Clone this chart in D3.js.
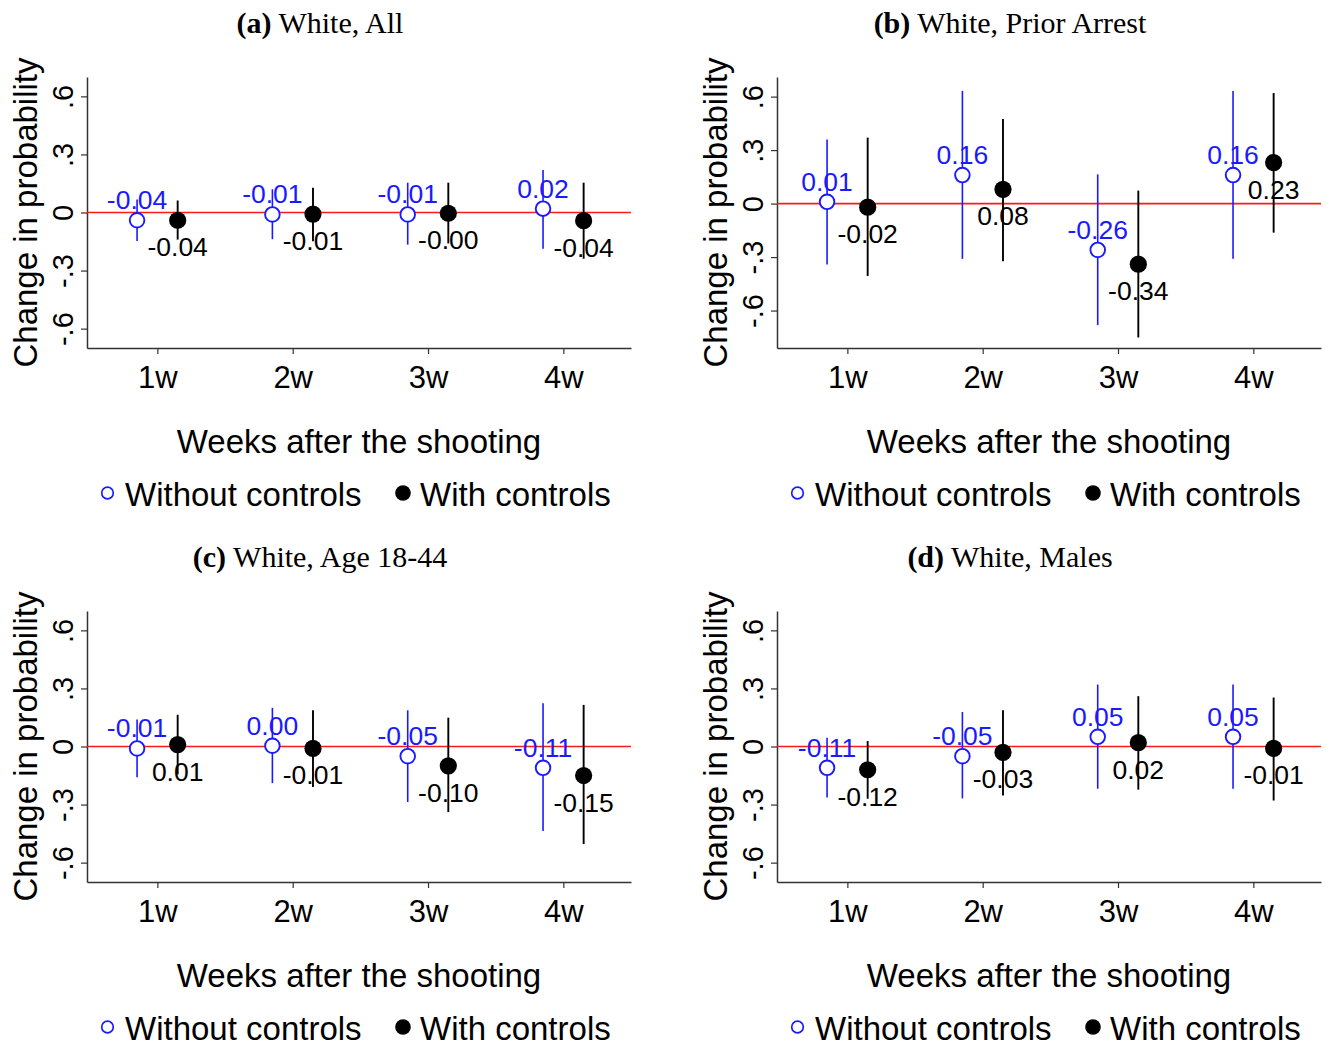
<!DOCTYPE html>
<html>
<head>
<meta charset="utf-8">
<script src="https://cdn.jsdelivr.net/npm/d3@7"></script>
<style>
  body { margin: 0; background: #fff; }
  svg { display: block; }
  .sans { font-family: "Liberation Sans", Arial, Helvetica, sans-serif; }
  .serif { font-family: "Liberation Serif", "Times New Roman", serif; }
</style>
</head>
<body>
<svg id="chart" width="1326" height="1048"></svg>
<script>
'use strict';

// ---- data ----
var weeks = ["1w", "2w", "3w", "4w"];
var panelLetters = ["(a)", "(b)", "(c)", "(d)"];
var panelNames = ["White, All", "White, Prior Arrest", "White, Age 18-44", "White, Males"];
var yTicks = [-0.6, -0.3, 0, 0.3, 0.6];
var yDomains = [[-0.7, 0.7], [-0.81, 0.71], [-0.7, 0.7], [-0.7, 0.7]];
var seriesNames = ["Without controls", "With controls"];

// without controls (no*) and with controls (ct*): estimate, lower and upper CI
var noEstA = [-0.04, -0.01, -0.01, 0.02];
var noLoA  = [-0.147, -0.138, -0.166, -0.187];
var noHiA  = [0.067, 0.12, 0.154, 0.22];
var ctEstA = [-0.04, -0.008, -0.004, -0.042];
var ctLoA  = [-0.14, -0.148, -0.16, -0.239];
var ctHiA  = [0.062, 0.128, 0.154, 0.154];

var noEstB = [0.01, 0.16, -0.26, 0.16];
var noLoB  = [-0.342, -0.31, -0.682, -0.31];
var noHiB  = [0.359, 0.632, 0.164, 0.632];
var ctEstB = [-0.02, 0.08, -0.34, 0.23];
var ctLoB  = [-0.406, -0.323, -0.751, -0.163];
var ctHiB  = [0.37, 0.475, 0.073, 0.62];

var noEstC = [-0.01, 0.004, -0.05, -0.11];
var noLoC  = [-0.159, -0.189, -0.287, -0.436];
var noHiC  = [0.14, 0.20, 0.187, 0.223];
var ctEstC = [0.01, -0.01, -0.10, -0.15];
var ctLoC  = [-0.144, -0.209, -0.339, -0.504];
var ctHiC  = [0.164, 0.187, 0.149, 0.215];

var noEstD = [-0.11, -0.05, 0.05, 0.05];
var noLoD  = [-0.263, -0.268, -0.218, -0.218];
var noHiD  = [0.045, 0.178, 0.32, 0.32];
var ctEstD = [-0.12, -0.03, 0.02, -0.01];
var ctLoD  = [-0.27, -0.253, -0.223, -0.279];
var ctHiD  = [0.028, 0.187, 0.26, 0.253];

var panels = [
  {no: [noEstA, noLoA, noHiA], ct: [ctEstA, ctLoA, ctHiA]},
  {no: [noEstB, noLoB, noHiB], ct: [ctEstB, ctLoB, ctHiB]},
  {no: [noEstC, noLoC, noHiC], ct: [ctEstC, ctLoC, ctHiC]},
  {no: [noEstD, noLoD, noHiD], ct: [ctEstD, ctLoD, ctHiD]}
];

// ---- layout ----
var BLUE = "#1a1aff";
var RED = "#ff1a1a";
var AXIS = "#333";
var PANEL_X = [0, 690];
var PANEL_Y = [0, 534];
var PLOT_L = 87, PLOT_R = 631, PLOT_T = 77, PLOT_B = 348;
var OFFSET = 0.15;

function fmtLabel(v) {
  return (v < 0 ? "-" : "") + Math.abs(v).toFixed(2);
}
function fmtTick(v) {
  if (v === 0) return "0";
  return (v < 0 ? "-" : "") + String(Math.abs(v)).replace(/^0/, "");
}

var svg = d3.select("#chart");

panels.forEach(function(p, i) {
  var ox = PANEL_X[i % 2], oy = PANEL_Y[Math.floor(i / 2)];
  var g = svg.append("g").attr("transform", "translate(" + ox + "," + oy + ")");

  var x = d3.scaleLinear().domain([0.48, 4.5]).range([PLOT_L, PLOT_R]);
  var y = d3.scaleLinear().domain(yDomains[i]).range([PLOT_B, PLOT_T]);

  // title
  var t = g.append("text").attr("class", "serif")
    .attr("x", 320).attr("y", 33)
    .attr("text-anchor", "middle")
    .attr("font-size", 30);
  t.append("tspan").attr("font-weight", "bold").text(panelLetters[i]);
  t.append("tspan").text(" " + panelNames[i]);

  // axes
  var ya = g.append("g").attr("class", "sans")
    .attr("transform", "translate(" + PLOT_L + ",0)")
    .call(d3.axisLeft(y).tickValues(yTicks).tickFormat(fmtTick).tickSize(6).tickSizeOuter(0));
  ya.select(".domain").attr("stroke", AXIS).attr("stroke-width", 1.5);
  ya.selectAll(".tick line").attr("stroke", AXIS).attr("stroke-width", 1.2);
  ya.selectAll(".tick text")
    .attr("x", 0).attr("dy", 0)
    .attr("transform", "translate(-14,0) rotate(-90)")
    .attr("text-anchor", "middle")
    .attr("font-size", 29)
    .attr("fill", "#000");

  var xa = g.append("g").attr("class", "sans")
    .attr("transform", "translate(0," + PLOT_B + ")")
    .call(d3.axisBottom(x).tickValues([1, 2, 3, 4])
      .tickFormat(function(d) { return weeks[d - 1]; })
      .tickSize(6).tickSizeOuter(0));
  xa.select(".domain").attr("stroke", AXIS).attr("stroke-width", 1.5);
  xa.selectAll(".tick line").attr("stroke", AXIS).attr("stroke-width", 1.2);
  xa.selectAll(".tick text")
    .attr("y", 40).attr("dy", 0)
    .attr("font-size", 31)
    .attr("fill", "#000");

  // axis titles
  g.append("text").attr("class", "sans")
    .attr("transform", "translate(37," + ((PLOT_T + PLOT_B) / 2) + ") rotate(-90)")
    .attr("text-anchor", "middle")
    .attr("font-size", 33)
    .text("Change in probability");

  g.append("text").attr("class", "sans")
    .attr("x", (PLOT_L + PLOT_R) / 2).attr("y", 453)
    .attr("text-anchor", "middle")
    .attr("font-size", 33)
    .text("Weeks after the shooting");

  // zero line
  g.append("line")
    .attr("x1", PLOT_L).attr("x2", PLOT_R)
    .attr("y1", y(0)).attr("y2", y(0))
    .attr("stroke", RED).attr("stroke-width", 1.6);

  var series = [
    {vals: p.no, off: -OFFSET, color: BLUE, hollow: true},
    {vals: p.ct, off: OFFSET, color: "#000", hollow: false}
  ];

  series.forEach(function(s) {
    var rows = weeks.map(function(w, k) {
      return {k: k + 1, est: s.vals[0][k], lo: s.vals[1][k], hi: s.vals[2][k]};
    });

    g.selectAll(null).data(rows).enter().append("line")
      .attr("x1", function(d) { return x(d.k + s.off); })
      .attr("x2", function(d) { return x(d.k + s.off); })
      .attr("y1", function(d) { return y(d.lo); })
      .attr("y2", function(d) { return y(d.hi); })
      .attr("stroke", s.color)
      .attr("stroke-width", s.hollow ? 1.6 : 1.9);

    g.selectAll(null).data(rows).enter().append("circle")
      .attr("cx", function(d) { return x(d.k + s.off); })
      .attr("cy", function(d) { return y(d.est); })
      .attr("r", s.hollow ? 7.3 : 8.6)
      .attr("fill", s.hollow ? "#fff" : "#000")
      .attr("stroke", s.color)
      .attr("stroke-width", s.hollow ? 1.9 : 0);

    g.selectAll(null).data(rows).enter().append("text")
      .attr("class", "sans")
      .attr("x", function(d) { return x(d.k + s.off); })
      .attr("y", function(d) { return s.hollow ? y(d.est) - 11 : y(d.est) + 36; })
      .attr("text-anchor", "middle")
      .attr("font-size", 26.5)
      .attr("fill", s.color)
      .text(function(d) { return fmtLabel(d.est); });
  });

  // legend
  var lg = g.append("g").attr("class", "sans");
  lg.append("circle").attr("cx", PLOT_L + 20.5).attr("cy", 493)
    .attr("r", 5.8).attr("fill", "#fff").attr("stroke", BLUE).attr("stroke-width", 1.7);
  lg.append("text").attr("x", PLOT_L + 38).attr("y", 506)
    .attr("font-size", 33).text(seriesNames[0]);
  lg.append("circle").attr("cx", PLOT_L + 316).attr("cy", 493)
    .attr("r", 7.8).attr("fill", "#000");
  lg.append("text").attr("x", PLOT_L + 333).attr("y", 506)
    .attr("font-size", 33).text(seriesNames[1]);
});
</script>
</body>
</html>
